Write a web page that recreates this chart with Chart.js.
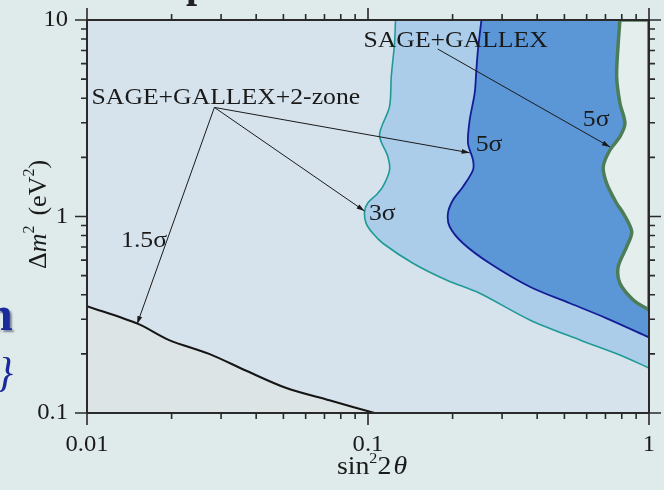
<!DOCTYPE html>
<html>
<head>
<meta charset="utf-8">
<script src="https://cdn.jsdelivr.net/npm/chart.js@4.4.1/dist/chart.umd.min.js"></script>
<style>
  html, body { margin: 0; padding: 0; background: #dfeaea; overflow: hidden; }
  #wrap { position: relative; width: 664px; height: 490px; }
  canvas { position: absolute; left: 0; top: 0; }
</style>
</head>
<body>
<div id="wrap"><canvas id="c" width="664" height="490"></canvas></div>
<script>
// Axis limits and tick labels
const sinMin = 0.01, sinMax = 1;
const dmMin = 0.1, dmMax = 10;
const xTickLabels = ['0.01', '0.1', '1'];
const yTickLabels = ['0.1', '1', '10'];

// SAGE+GALLEX+2-zone, 1.5 sigma boundary (allowed above)
const s15Sin = [0.01, 0.0152, 0.0196, 0.0272, 0.0369, 0.0512, 0.0729, 0.1055];
const s15Dm  = [0.350, 0.284, 0.235, 0.200, 0.164, 0.134, 0.116, 0.1];

// SAGE+GALLEX+2-zone, 3 sigma boundary
const s3Sin = [0.1253, 0.1243, 0.121, 0.1193, 0.1099, 0.1177, 0.1193, 0.1129, 0.1069, 0.0998,
               0.0972, 0.0985, 0.104, 0.1129, 0.1445, 0.19, 0.2497, 0.3765, 0.5675, 0.788, 1];
const s3Dm  = [10, 7.64, 5.15, 3.62, 2.60, 2.015, 1.724, 1.418, 1.286, 1.171,
               1.054, 0.923, 0.821, 0.731, 0.578, 0.475, 0.4067, 0.2975, 0.2352, 0.1973, 0.1694];

// SAGE+GALLEX+2-zone, 5 sigma boundary
const s5Sin = [0.2533, 0.2462, 0.243, 0.2397, 0.2301, 0.2269, 0.2364, 0.2364, 0.2178, 0.2006,
               0.1925, 0.1953, 0.2178, 0.271, 0.3765, 0.5229, 0.7067, 1];
const s5Dm  = [10, 7.04, 5.57, 4.24, 3.10, 2.358, 1.94, 1.724, 1.418, 1.213,
               1.038, 0.887, 0.731, 0.578, 0.4392, 0.3617, 0.3033, 0.2427];

// SAGE+GALLEX, 5 sigma boundary
const sgSin = [0.788, 0.777, 0.767, 0.788, 0.821, 0.788, 0.726, 0.6873, 0.7067, 0.767,
               0.81, 0.868, 0.833, 0.777, 0.788, 0.879, 1];
const sgDm  = [10, 7.61, 5.15, 3.77, 2.98, 2.548, 2.18, 1.792, 1.476, 1.167,
               1.038, 0.837, 0.702, 0.555, 0.457, 0.376, 0.3343];

// Annotation labels: text and anchor (left, baseline) in data units
const labelTexts = ['SAGE+GALLEX', 'SAGE+GALLEX+2-zone', '5σ', '5σ', '3σ', '1.5σ'];
const labelSin   = [0.0964, 0.01038, 0.5816, 0.2416, 0.1008, 0.01322];
const labelDm    = [7.33, 3.758, 2.871, 2.142, 0.9654, 0.7036];

// Arrows: tail -> head in data units
const arrowFromSin = [0.177, 0.0284, 0.0284, 0.0284];
const arrowFromDm  = [7.12, 3.59, 3.59, 3.59];
const arrowToSin   = [0.726, 0.01508, 0.0972, 0.230];
const arrowToDm    = [2.26, 0.2837, 1.066, 2.11];

const FONT = "'Liberation Serif', 'Times New Roman', serif";
const STRETCH = 1.07;   // glyphs in this figure run slightly wide

const pts = (xs, ys) => xs.map((x, i) => ({ x, y: ys[i] }));
// closed region bounded by a contour and the top/right edges of the plot
function region(xs, ys) {
  const p = pts(xs, ys);
  const last = p[p.length - 1];
  return p.concat([last, { x: sinMax, y: dmMax }, { x: sinMax, y: dmMax }, { x: xs[0], y: dmMax }]);
}

// draw a run list (mixed fonts / superscripts) with horizontal stretch
function richText(ctx, runs, x, y, align, k) {
  k = k || 1;
  let w = 0;
  runs.forEach(r => { ctx.font = r.font; r.w = ctx.measureText(r.t).width + (r.gap || 0); w += r.w; });
  let cx = align === 'center' ? -w / 2 : align === 'right' ? -w : 0;
  ctx.save();
  ctx.translate(x, y);
  ctx.scale(k, 1);
  ctx.textAlign = 'left';
  runs.forEach(r => { ctx.font = r.font; ctx.fillText(r.t, cx, r.dy || 0); cx += r.w; });
  ctx.restore();
}

const isDecade = v => Math.abs(Math.log10(v) - Math.round(Math.log10(v))) < 1e-9;

const decorPlugin = {
  id: 'decor',
  beforeDraw(chart) {
    const { ctx, chartArea: a } = chart;
    ctx.save();
    ctx.fillStyle = '#dfeaea';
    ctx.fillRect(0, 0, chart.width, chart.height);
    ctx.fillStyle = '#d7e3ec';
    ctx.fillRect(a.left, a.top, a.right - a.left, a.bottom - a.top);
    // slide text fragments around the figure
    ctx.textBaseline = 'alphabetic';
    ctx.fillStyle = '#222';
    ctx.font = 'bold 40px ' + FONT;
    ctx.textAlign = 'left';
    ctx.fillText('p', 186, -3);
    ctx.fillStyle = '#1a2a9c';
    ctx.shadowColor = 'rgba(0,0,50,0.45)';
    ctx.shadowOffsetX = 2; ctx.shadowOffsetY = 2; ctx.shadowBlur = 2;
    ctx.font = 'bold 48px ' + FONT;
    ctx.fillText('n', -14, 330);
    ctx.shadowColor = 'transparent';
    ctx.font = 'italic 42px ' + FONT;
    ctx.textAlign = 'right';
    ctx.fillText('}', 13, 386);
    ctx.restore();
  },
  afterDatasetsDraw(chart) {
    const { ctx, chartArea: a, scales: { x, y } } = chart;
    ctx.save();
    // arrows
    ctx.strokeStyle = '#1a1a1a'; ctx.fillStyle = '#1a1a1a'; ctx.lineWidth = 1;
    arrowFromSin.forEach((s, i) => {
      const x0 = x.getPixelForValue(s), y0 = y.getPixelForValue(arrowFromDm[i]);
      const x1 = x.getPixelForValue(arrowToSin[i]), y1 = y.getPixelForValue(arrowToDm[i]);
      const ang = Math.atan2(y1 - y0, x1 - x0);
      ctx.beginPath(); ctx.moveTo(x0, y0); ctx.lineTo(x1, y1); ctx.stroke();
      ctx.beginPath();
      ctx.moveTo(x1, y1);
      ctx.lineTo(x1 - 8 * Math.cos(ang) + 2.5 * Math.sin(ang), y1 - 8 * Math.sin(ang) - 2.5 * Math.cos(ang));
      ctx.lineTo(x1 - 8 * Math.cos(ang) - 2.5 * Math.sin(ang), y1 - 8 * Math.sin(ang) + 2.5 * Math.cos(ang));
      ctx.closePath(); ctx.fill();
    });
    // labels
    ctx.textBaseline = 'alphabetic';
    labelTexts.forEach((t, i) => {
      richText(ctx, [{ t, font: '24px ' + FONT }],
        x.getPixelForValue(labelSin[i]), y.getPixelForValue(labelDm[i]), 'left', STRETCH);
    });
    // frame
    ctx.strokeStyle = '#2a2a2a'; ctx.lineWidth = 2;
    ctx.strokeRect(a.left, a.top, a.right - a.left, a.bottom - a.top);
    // tick marks, outward on all four sides
    ctx.lineWidth = 1.6;
    const marks = (lo, hi) => {
      const out = [];
      for (let e = Math.round(Math.log10(lo)); e <= Math.round(Math.log10(hi)); e++) {
        for (let m = 1; m <= 9; m++) {
          const v = m * Math.pow(10, e);
          if (v >= lo * 0.999 && v <= hi * 1.001) out.push(v);
        }
      }
      return out;
    };
    ctx.beginPath();
    marks(sinMin, sinMax).forEach(v => {
      const px = x.getPixelForValue(v), len = isDecade(v) ? 12 : 6;
      ctx.moveTo(px, a.bottom); ctx.lineTo(px, a.bottom + len);
      ctx.moveTo(px, a.top); ctx.lineTo(px, a.top - len);
    });
    marks(dmMin, dmMax).forEach(v => {
      const py = y.getPixelForValue(v), len = isDecade(v) ? 12 : 6;
      ctx.moveTo(a.left, py); ctx.lineTo(a.left - len, py);
      ctx.moveTo(a.right, py); ctx.lineTo(a.right + len, py);
    });
    ctx.stroke();
    // tick labels
    ctx.fillStyle = '#1a1a1a';
    ctx.textBaseline = 'alphabetic';
    xTickLabels.forEach(l => {
      richText(ctx, [{ t: l, font: '23px ' + FONT }], x.getPixelForValue(parseFloat(l)), a.bottom + 38, 'center', STRETCH);
    });
    ctx.textBaseline = 'middle';
    yTickLabels.forEach(l => {
      richText(ctx, [{ t: l, font: '23px ' + FONT }], a.left - 19, y.getPixelForValue(parseFloat(l)), 'right', STRETCH);
    });
    // axis titles
    ctx.textBaseline = 'alphabetic';
    richText(ctx, [
      { t: 'sin', font: '26px ' + FONT },
      { t: '2', font: '15px ' + FONT, dy: -11 },
      { t: '2', font: '26px ' + FONT, gap: 2 },
      { t: 'θ', font: 'italic 26px ' + FONT }
    ], (a.left + a.right) / 2 + 4, 474, 'center', STRETCH);
    ctx.save();
    ctx.translate(46, (a.top + a.bottom) / 2 - 2);
    ctx.rotate(-Math.PI / 2);
    richText(ctx, [
      { t: 'Δ', font: '26px ' + FONT },
      { t: 'm', font: 'italic 26px ' + FONT },
      { t: '2', font: '16px ' + FONT, dy: -12, gap: 10 },
      { t: '(eV', font: '26px ' + FONT },
      { t: '2', font: '16px ' + FONT, dy: -12 },
      { t: ')', font: '26px ' + FONT }
    ], 0, 0, 'center', 1);
    ctx.restore();
    ctx.restore();
  }
};

const lineBase = { showLine: true, pointRadius: 0, pointHoverRadius: 0, tension: 0.3 };

new Chart(document.getElementById('c'), {
  type: 'scatter',
  data: {
    datasets: [
      Object.assign({}, lineBase, {
        label: 'SAGE+GALLEX 5σ', data: region(sgSin, sgDm), fill: 'shape',
        backgroundColor: '#e3eeed', borderColor: '#4d7d58', borderWidth: 3.5, order: 1
      }),
      Object.assign({}, lineBase, {
        label: 'SAGE+GALLEX+2-zone 5σ', data: region(s5Sin, s5Dm), fill: 'shape',
        backgroundColor: '#5b97d6', borderColor: '#141c96', borderWidth: 1.8, order: 2
      }),
      Object.assign({}, lineBase, {
        label: 'SAGE+GALLEX+2-zone 3σ', data: region(s3Sin, s3Dm), fill: 'shape',
        backgroundColor: '#abcdea', borderColor: '#1f9a94', borderWidth: 1.6, order: 3
      }),
      Object.assign({}, lineBase, {
        label: 'SAGE+GALLEX+2-zone 1.5σ', data: pts(s15Sin, s15Dm), fill: 'start',
        backgroundColor: '#dde4e5', borderColor: '#151515', borderWidth: 2, order: 4
      })
    ]
  },
  options: {
    responsive: false,
    animation: false,
    devicePixelRatio: 1,
    layout: { padding: { left: 0, right: 15, top: 20, bottom: 0 } },
    plugins: { legend: { display: false }, tooltip: { enabled: false } },
    events: [],
    scales: {
      x: {
        type: 'logarithmic', min: sinMin, max: sinMax,
        grid: { display: false, drawTicks: false }, border: { display: false },
        ticks: { display: false },
        afterFit: s => { s.height = 77; }
      },
      y: {
        type: 'logarithmic', min: dmMin, max: dmMax,
        grid: { display: false, drawTicks: false }, border: { display: false },
        ticks: { display: false },
        afterFit: s => { s.width = 87; }
      }
    }
  },
  plugins: [decorPlugin]
});
</script>
</body>
</html>
